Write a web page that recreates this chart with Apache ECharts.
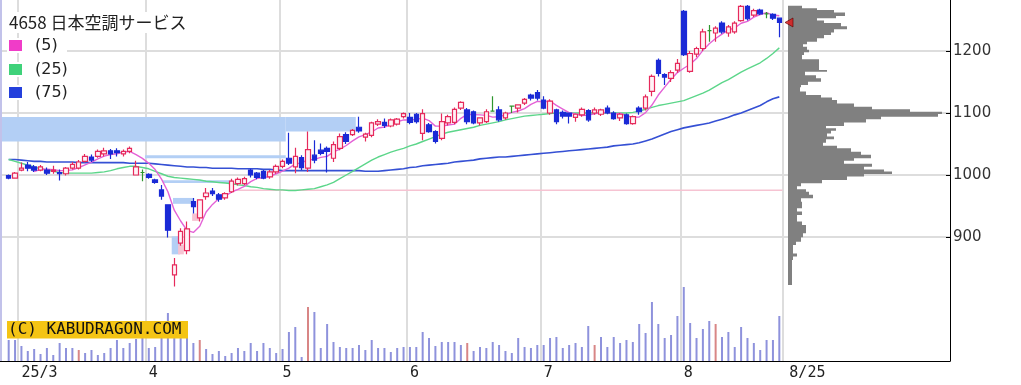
<!DOCTYPE html>
<html><head><meta charset="utf-8">
<script src="https://cdn.jsdelivr.net/npm/echarts@6/dist/echarts.min.js"></script>
<style>html,body{margin:0;padding:0;background:#fff;overflow:hidden}#c{width:1021px;height:385px}</style>
</head><body><div id="c"></div>
<script>
// ---- trading days (categories) ----
const febDays = [27,28];
const marDays = [3,4,5,6,7,10,11,12,13,14,17,18,19,21,24,25,26,27,28,31];
const aprDays = [1,2,3,4,7,8,9,10,11,14,15,16,17,18,21,22,23,24,25,28,30];
const mayDays = [1,2,7,8,9,12,13,14,15,16,19,20,21,22,23,26,27,28,29,30];
const junDays = [2,3,4,5,6,9,10,11,12,13,16,17,18,19,20,23,24,25,26,27,30];
const julDays = [1,2,3,4,7,8,9,10,11,14,15,16,17,18,22,23,24,25,28,29,30,31];
const augDays = [1,4,5,6,7,8,12,13,14,15,18,19,20,21,22,25];

// ---- prices ----
const opens = [999,995,1008,1016,1013,1008,1008,1006,1004,1002, 1011,1011,1022,1029,1030,1034,1039,1039,1034,1038,
  1000,1004,1001,992,976,952,839,890,878,957, 931,965,974,968,963,973,986,986,1008,1003,
  1006,997,1005,1014,1027,1013,1028,1011,1032,1040, 1043,1027,1043,1065,1065,1077,1061,1064,1082,1085,
  1079,1082,1094,1093,1098,1067,1081,1070,1059,1084, 1085,1108,1105,1102,1084,1086,1103,1105,1092,1111,
  1108,1116,1129,1133,1121,1100,1105,1101,1100,1093, 1097,1104,1100,1098,1108,1100,1092,1097,1083,1108,
  1108,1135,1185,1162,1156,1169,1264,1167,1195,1204, 1233,1229,1245,1229,1231,1249,1272,1258,1266,1260,
  1259,1253];
const closes = [995,1003,1011,1011,1008,1013,1003,1008,1002,1011, 1017,1021,1030,1024,1038,1039,1034,1036,1038,1043,
  1013,1004,996,988,966,911,855,909,913,949, 960,971,970,961,970,990,993,994,1000,996,
  995,1005,1014,1022,1019,1030,1012,1041,1024,1035, 1038,1049,1062,1054,1072,1071,1066,1084,1086,1080,
  1089,1090,1099,1085,1086,1099,1070,1054,1086,1094, 1106,1117,1086,1084,1092,1102,1103,1089,1100,1111,
  1113,1122,1124,1124,1108,1119,1086,1095,1095,1098, 1106,1089,1105,1105,1100,1091,1098,1083,1094,1102,
  1126,1159,1164,1158,1165,1180,1194,1196,1204,1231, 1233,1237,1231,1239,1245,1272,1252,1265,1260,1260,
  1253,1246];
const lows = [993,994,1006,1006,1005,1006,1000,1002,991,999, 1009,1009,1020,1021,1028,1030,1026,1030,1030,1035,
  999,990,994,986,960,899,820,886,872,938, 925,960,966,957,960,971,983,984,996,993,
  993,994,1002,1011,1016,1003,1008,1005,1019,1032, 1004,1021,1040,1050,1063,1068,1054,1061,1079,1076,
  1077,1080,1091,1082,1083,1056,1068,1051,1056,1080, 1082,1105,1082,1082,1080,1084,1102,1086,1089,1100,
  1101,1113,1120,1120,1106,1097,1082,1091,1083,1086, 1094,1086,1097,1095,1098,1089,1087,1081,1081,1097,
  1104,1127,1159,1145,1150,1165,1192,1165,1190,1200, 1215,1215,1228,1223,1228,1247,1249,1255,1258,1253,
  1250,1222];
const highs = [1001,1005,1020,1021,1016,1016,1012,1015,1009,1013, 1021,1024,1034,1033,1041,1044,1042,1043,1041,1046,
  1023,1009,1003,994,984,953,866,914,925,963, 961,979,979,971,972,994,996,997,1010,1005,
  1008,1008,1017,1025,1068,1044,1032,1070,1056,1051, 1046,1054,1067,1069,1074,1094,1068,1086,1090,1091,
  1091,1092,1101,1100,1100,1106,1084,1072,1099,1097, 1109,1119,1108,1104,1093,1106,1127,1111,1102,1112,
  1114,1124,1131,1137,1127,1122,1107,1104,1101,1099, 1109,1106,1109,1107,1112,1103,1100,1099,1096,1111,
  1130,1162,1188,1164,1169,1187,1266,1200,1207,1236, 1242,1240,1248,1242,1248,1274,1274,1268,1268,1263,
  1261,1254];

// moving averages (25 / 75 days)
const ma25 = [1025,1022,1019,1016,1013,1010,1008,1006,1004,1003, 1003,1003,1003,1003,1004,1005,1007,1010,1012,1014,
  1014,1012,1010,1006,1002,998,996,995,994,993, 992,990,989,988,987,986,984,983,981,980,
  978,977,976,976,975,975,976,977,978,981, 984,988,994,1000,1006,1012,1018,1024,1029,1033,
  1037,1040,1043,1047,1050,1054,1058,1062,1066,1069, 1071,1073,1075,1077,1080,1082,1084,1086,1089,1091,
  1093,1095,1096,1097,1098,1099,1100,1100,1100,1100, 1100,1100,1100,1100,1100,1100,1100,1100,1101,1103,
  1106,1109,1112,1114,1116,1118,1120,1124,1128,1132, 1137,1143,1149,1154,1160,1166,1171,1176,1181,1188,
  1196,1205];
const ma75 = [1025,1025,1024,1023,1022,1022,1021,1021,1021,1021, 1021,1020,1020,1020,1020,1020,1020,1020,1020,1019,
  1019,1019,1019,1018,1017,1016,1015,1014,1013,1013, 1012,1012,1011,1011,1011,1011,1010,1010,1010,1010,
  1009,1009,1008,1007,1007,1007,1007,1007,1007,1007, 1007,1007,1007,1007,1007,1007,1006,1006,1006,1007,
  1008,1009,1010,1012,1013,1015,1016,1017,1018,1019, 1021,1022,1023,1024,1026,1027,1028,1029,1029,1030,
  1031,1032,1033,1034,1035,1036,1037,1038,1039,1040, 1041,1042,1043,1044,1045,1047,1048,1049,1050,1052,
  1055,1058,1062,1066,1070,1073,1076,1078,1080,1082, 1084,1087,1090,1093,1097,1100,1104,1108,1112,1118,
  1123,1126];

// volume (thousand shares)
const volumes = [63,63,45,30,36,21,39,18,54,39, 39,33,24,33,18,24,39,63,39,54,
  66,69,39,42,84,144,120,90,78,54, 63,36,21,30,15,24,39,30,54,30,
  54,39,24,36,87,102,12,162,147,39, 111,57,42,39,39,48,33,63,39,39,
  27,39,42,42,42,87,69,45,57,57, 57,48,54,30,42,39,57,48,30,24,
  69,42,39,48,48,69,72,39,48,54, 42,105,48,72,42,72,54,63,57,111,
  84,177,111,69,78,135,222,114,69,96, 120,111,72,87,42,102,69,54,33,63,
  63,135];
const redVolumeDays = [11,30,47,72,92,111];

// price gaps (window bands): from/to in trading-day index units
const bandFrom = [-1.05, 43.5, 21.4, 24.2, 25.8, 25.6, 26.6, 28.8, 35.5];
const bandTo   = [43.5, 54.5, 43.5, 35.2, 29.1, 26.9, 27.5, 29.9, 121.5];
const bandLo   = [1054, 1070, 1027, 987, 953.5, 872, 872, 926, 974];
const bandHi   = [1093.5, 1093.5, 1032, 991.5, 963, 901, 888, 938, 976.5];
const bandKind = [0,0,0,0,0,0,1,1,1];

// volume-at-price profile: edges (top to bottom) and amount per segment
const profEdges = [1273,1269,1266,1262,1256.5,1253,1249,1245,1240,1235,1230,1226,1220.5,1215,1211,1207,1202,1198,1193.5,1186.5,
  1175,1169.5,1166.5,1161,1156,1150.5,1145,1141.5,1134.5,1129,1125,1121,1115.5,1110,1106,1102,1098.5,1094,1090,1084.5,
  1079,1075.5,1071.5,1067,1062,1057.5,1052,1047,1043,1037.5,1032.5,1027,1023,1018,1013.5,1009,1005.5,1001.5,997.5,992,
  986.5,982,977,973,968,962.5,957,951.5,946.5,941,935.5,930,925,919.5,912.5,906,899.5,892.5,887,873.5,868.5,863,822.5];
const profVol = [14,29,46,57,48,29,36,53,59,46,43,36,29,19,15,19,21,16,14,31,
  31,39,17,28,33,20,13,12,18,33,44,49,66,84,122,154,150,93,78,56,
  38,48,43,39,46,38,35,49,63,73,83,66,56,84,76,96,104,76,59,34,
  13,9,18,21,25,13,14,14,9,14,9,9,14,18,18,15,13,8,5,9,5,4];

const priceTicks = [900,1000,1100,1200];

// ---- build ----
const pad = d => (d < 10 ? '0' : '') + d;
const dates = [].concat(
  febDays.map(d => '2025-02-' + pad(d)), marDays.map(d => '2025-03-' + pad(d)),
  aprDays.map(d => '2025-04-' + pad(d)), mayDays.map(d => '2025-05-' + pad(d)),
  junDays.map(d => '2025-06-' + pad(d)), julDays.map(d => '2025-07-' + pad(d)),
  augDays.map(d => '2025-08-' + pad(d)));
const ohlc = dates.map((d, i) => [opens[i], closes[i], lows[i], highs[i]]);
const ma5 = closes.map((c, i) => i < 4 ? null : Math.round(closes.slice(i - 4, i + 1).reduce((a, b) => a + b, 0) / 5 * 10) / 10);
const monthStarts = new Set();
dates.forEach((d, i) => { if (i > 0 && d.slice(5, 7) !== dates[i - 1].slice(5, 7)) monthStarts.add(i); });
const firstLabel = Math.min(...monthStarts);
const lastIdx = dates.length - 1;
const bandData = bandFrom.map((f, k) => [f, bandTo[k], bandLo[k], bandHi[k], bandKind[k]]);
const profData = profVol.map((v, k) => [profEdges[k + 1], profEdges[k], v]);
const lastClose = closes[lastIdx];

const YMIN = 700, YMAX = 1282.26;
const gridCol = '#dddddd';
const chart = echarts.init(document.getElementById('c'), null, {renderer: 'canvas'});

chart.setOption({
  animation: false,
  backgroundColor: '#ffffff',
  grid: [
    {left: 0, right: 71, top: 0, bottom: 24},
    {left: 5.5, width: 777, top: 0, bottom: 24},
    {left: 788, right: 71, top: 0, bottom: 24}
  ],
  xAxis: [
    {gridIndex: 0, type: 'value', min: 0, max: 1, axisLine: {show: true, onZero: false, lineStyle: {color: '#000', width: 1}},
     axisTick: {show: false}, axisLabel: {show: false}, splitLine: {show: false}},
    {gridIndex: 1, type: 'category', data: dates, boundaryGap: true,
     axisLine: {show: false}, axisTick: {show: false},
     axisLabel: {
       interval: (i) => monthStarts.has(i) || i === lastIdx,
       align: 'left', margin: 5, color: '#222', fontFamily: 'DejaVu Sans Mono', fontSize: 15,
       formatter: (v, i) => {
         const m = +v.slice(5, 7), d = +v.slice(8, 10);
         if (i === lastIdx) return '{e|' + m + '/' + d + '}';
         if (i === firstLabel) return v.slice(2, 4) + '/' + m;
         return '' + m;
       },
       rich: {e: {padding: [0, 0, 0, 10], fontFamily: 'DejaVu Sans Mono', fontSize: 15, color: '#222'}}
     },
     splitLine: {show: true, interval: (i) => monthStarts.has(i), lineStyle: {color: gridCol, width: 2}}},
    {gridIndex: 2, type: 'value', min: 0, max: 162, show: false},
    {gridIndex: 1, type: 'value', min: -0.5, max: lastIdx + 0.5, show: false}
  ],
  yAxis: [
    {gridIndex: 0, type: 'value', min: YMIN, max: YMAX, interval: 100, position: 'right',
     axisLine: {show: true, onZero: false, lineStyle: {color: '#000', width: 1}},
     axisTick: {show: true, inside: true, length: 4, customValues: priceTicks, lineStyle: {color: '#000'}},
     axisLabel: {customValues: priceTicks, margin: 3, color: '#333', fontFamily: 'DejaVu Sans', fontSize: 15,
                 formatter: (v) => String(Math.round(v))},
     splitLine: {show: true, lineStyle: {color: gridCol, width: 2}}},
    {gridIndex: 1, type: 'value', min: YMIN, max: YMAX, show: false},
    {gridIndex: 1, type: 'value', min: 0, max: 1083, show: false},
    {gridIndex: 2, type: 'value', min: YMIN, max: YMAX, show: false}
  ],
  series: [
    {type: 'custom', name: 'gaps', xAxisIndex: 3, yAxisIndex: 1, clip: false, z: 1, silent: true,
     dimensions: [{name: 'f', type: 'float'}, {name: 't', type: 'float'}, {name: 'lo', type: 'float'}, {name: 'hi', type: 'float'}, {name: 'k', type: 'int'}],
     encode: {x: [0, 1], y: [2, 3]},
     renderItem: (p, api) => {
       const a = api.coord([api.value(0), api.value(3)]);
       const b = api.coord([api.value(1), api.value(2)]);
       return {type: 'rect', shape: {x: a[0], y: a[1], width: b[0] - a[0], height: Math.max(1.5, b[1] - a[1])},
               style: {fill: api.value(4) ? '#f6c3d2' : '#b3cff5'}};
     },
     data: bandData},
    {type: 'line', name: '(75)', xAxisIndex: 1, yAxisIndex: 1, data: ma75, symbol: 'none', z: 3,
     lineStyle: {color: '#3550d4', width: 1.6}},
    {type: 'line', name: '(25)', xAxisIndex: 1, yAxisIndex: 1, data: ma25, symbol: 'none', z: 3,
     lineStyle: {color: '#5cd68a', width: 1.4}},
    {type: 'line', name: '(5)', xAxisIndex: 1, yAxisIndex: 1, data: ma5, symbol: 'none', z: 3,
     lineStyle: {color: '#e462d6', width: 1.4}},
    {type: 'candlestick', xAxisIndex: 1, yAxisIndex: 1, data: ohlc, barWidth: 5, z: 4,
     itemStyle: {color: '#fff2f6', color0: '#1a2ad6', borderColor: '#e62a5c', borderColor0: '#1a2ad6',
                 borderColorDoji: '#2e962e', borderWidth: 1.2}},
    {type: 'bar', xAxisIndex: 1, yAxisIndex: 2, data: volumes, barWidth: 2, z: 2,
     itemStyle: {color: (p) => redVolumeDays.includes(p.dataIndex) ? '#d88686' : '#8e92dc'}},
    {type: 'custom', name: 'profile', xAxisIndex: 2, yAxisIndex: 3, z: 3, silent: true,
     encode: {x: 2, y: [0, 1]},
     renderItem: (p, api) => {
       if (p.dataIndex !== 0) return null;
       const pts = [api.coord([0, profEdges[0]])];
       profVol.forEach((v, k) => {
         pts.push(api.coord([v, profEdges[k]]));
         pts.push(api.coord([v, profEdges[k + 1]]));
       });
       pts.push(api.coord([0, profEdges[profEdges.length - 1]]));
       return {type: 'polygon', shape: {points: pts}, style: {fill: '#808080'}};
     },
     data: profData},
    {type: 'scatter', xAxisIndex: 2, yAxisIndex: 3, data: [[0, lastClose]], z: 6,
     symbol: 'path://M0,5L9,0L9,10Z', symbolSize: [8, 9], symbolOffset: [1, 0],
     itemStyle: {color: '#e01818', borderColor: '#5a0000', borderWidth: 0.8}}
  ],
  graphic: [
    {type: 'rect', shape: {x: 0, y: 0, width: 2, height: 361}, style: {fill: '#c2c2ea'}, z: 50},
    {type: 'rect', shape: {x: 7, y: 12, width: 190, height: 21}, style: {fill: '#fff'}, z: 50},
    {type: 'text', x: 9, y: 22.5, z: 51, style: {text: '4658 日本空調サービス', font: '17px "Noto Sans CJK JP"', fill: '#222', verticalAlign: 'middle'}},
    {type: 'rect', shape: {x: 7, y: 38, width: 60, height: 15}, style: {fill: '#fff'}, z: 50},
    {type: 'rect', shape: {x: 9, y: 40, width: 13, height: 11}, style: {fill: '#f03cc8'}, z: 51},
    {type: 'text', x: 35, y: 45.5, z: 51, style: {text: '(5)', font: '16px "DejaVu Sans"', fill: '#222', verticalAlign: 'middle'}},
    {type: 'rect', shape: {x: 7, y: 62, width: 60, height: 15}, style: {fill: '#fff'}, z: 50},
    {type: 'rect', shape: {x: 9, y: 64, width: 13, height: 11}, style: {fill: '#3fd27a'}, z: 51},
    {type: 'text', x: 35, y: 69.5, z: 51, style: {text: '(25)', font: '16px "DejaVu Sans"', fill: '#222', verticalAlign: 'middle'}},
    {type: 'rect', shape: {x: 7, y: 85, width: 60, height: 15}, style: {fill: '#fff'}, z: 50},
    {type: 'rect', shape: {x: 9, y: 87, width: 13, height: 11}, style: {fill: '#2440dc'}, z: 51},
    {type: 'text', x: 35, y: 92.5, z: 51, style: {text: '(75)', font: '16px "DejaVu Sans"', fill: '#222', verticalAlign: 'middle'}},
    {type: 'rect', shape: {x: 7, y: 321, width: 181, height: 17.5}, style: {fill: '#f4c414'}, z: 50},
    {type: 'text', x: 8, y: 330, z: 51, style: {text: '(C) KABUDRAGON.COM', font: '16px "DejaVu Sans Mono"', fill: '#111', verticalAlign: 'middle'}}
  ]
});
</script></body></html>
